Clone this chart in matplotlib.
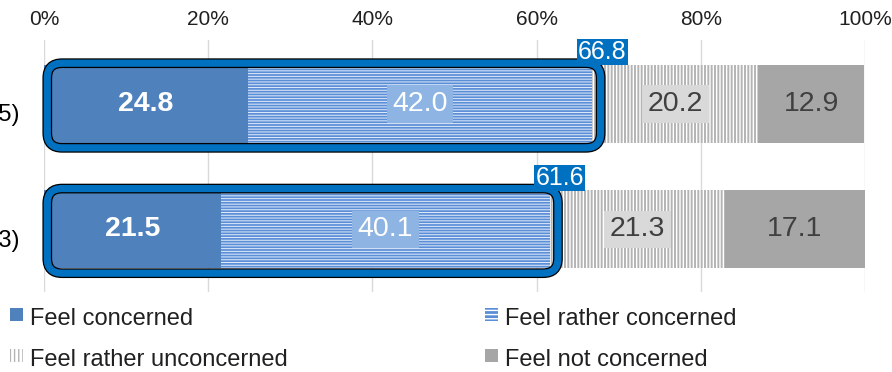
import matplotlib
matplotlib.use("Agg")
import matplotlib.pyplot as plt
from matplotlib.patches import FancyBboxPatch, Rectangle

plt.rcParams["font.family"] = ["Liberation Sans", "DejaVu Sans"]

# Survey results (%)
groups = ["(2015)", "(2013)"]
concerned = [24.8, 21.5]
rather_concerned = [42.0, 40.1]
rather_unconcerned = [20.2, 21.3]
not_concerned = [12.9, 17.1]
series_names = ["Feel concerned", "Feel rather concerned",
                "Feel rather unconcerned", "Feel not concerned"]
x_ticks = [0, 20, 40, 60, 80, 100]

W, H = 892, 372
fig = plt.figure(figsize=(W / 100, H / 100), dpi=100)
ax_rect = [44 / W, 80 / H, 821 / W, 252 / H]
ax = fig.add_axes(ax_rect)
ylim = (1.5, -0.51)
ax.set_xlim(0, 100)
ax.set_ylim(*ylim)

C_CONC = "#4F81BD"
C_RCONC = "#5A8ED7"
C_RUNC = "#B4B4B4"
C_NOT = "#A6A6A6"
C_HILITE = "#0070C0"
C_DARK = "#404040"

pos = list(range(len(groups)))
bh = 0.62

# stacked segments
lefts = [0.0] * len(groups)
ax.barh(pos, concerned, left=lefts, height=bh, color=C_CONC, zorder=2)
lefts2 = [a for a in concerned]
ax.barh(pos, rather_concerned, left=lefts2, height=bh, color=C_RCONC, zorder=2)
plt.rcParams["hatch.linewidth"] = 0.75
ax.barh(pos, rather_concerned, left=lefts2, height=bh, facecolor="none",
        edgecolor="#DCE7F7", hatch="------", linewidth=0, zorder=2)
lefts3 = [a + b for a, b in zip(concerned, rather_concerned)]
ax.barh(pos, rather_unconcerned, left=lefts3, height=bh, color="white", zorder=2)
plt.rcParams["hatch.linewidth"] = 1.4
ax.barh(pos, rather_unconcerned, left=lefts3, height=bh, facecolor="none",
        edgecolor=C_RUNC, hatch="|||||", linewidth=0, zorder=2)
lefts4 = [a + b for a, b in zip(lefts3, rather_unconcerned)]
ax.barh(pos, not_concerned, left=lefts4, height=bh, color=C_NOT, zorder=2)

# segment value labels
fs_val = 20.5
for i in pos:
    ax.text(concerned[i] / 2, i, f"{concerned[i]:.1f}", ha="center", va="center",
            color="white", fontsize=fs_val, fontweight="bold", zorder=5)
    ax.text(lefts2[i] + rather_concerned[i] / 2, i, f"{rather_concerned[i]:.1f}",
            ha="center", va="center", color="white", fontsize=fs_val, zorder=5,
            bbox=dict(boxstyle="square,pad=0.2", fc="#8DB4E2", ec="none"))
    ax.text(lefts3[i] + rather_unconcerned[i] / 2, i, f"{rather_unconcerned[i]:.1f}",
            ha="center", va="center", color=C_DARK, fontsize=fs_val, zorder=5,
            bbox=dict(boxstyle="square,pad=0.2", fc="#D9D9D9", ec="none"))
    ax.text(lefts4[i] + not_concerned[i] / 2, i, f"{not_concerned[i]:.1f}",
            ha="center", va="center", color=C_DARK, fontsize=fs_val, zorder=5)

# rounded highlight around the "concerned" total
px_per_x = ax_rect[2] * W / 100.0
px_per_y = ax_rect[3] * H / abs(ylim[0] - ylim[1])
aspect = px_per_x / px_per_y
for i in pos:
    total = concerned[i] + rather_concerned[i]
    x0, x1 = 0.4, total + 1.0
    y0, y1 = i - bh / 2 - 0.015, i + bh / 2 + 0.04
    for ec, lw in (("black", 7.0), (C_HILITE, 5.2)):
        box = FancyBboxPatch((x0, y0), x1 - x0, y1 - y0,
                             boxstyle="round,pad=0,rounding_size=1.8",
                             mutation_aspect=aspect, fc="none", ec=ec, lw=lw,
                             zorder=4, clip_on=False)
        ax.add_patch(box)
    ax.text(total + 1.2, i - bh / 2 - 0.005, f"{total:.1f}", ha="center", va="bottom",
            color="white", fontsize=18, zorder=6,
            bbox=dict(boxstyle="square,pad=0.04", fc=C_HILITE, ec="none"))

# category labels
for i, g in zip(pos, groups):
    ax.text(-2.9, i + 0.09, g, ha="right", va="center", fontsize=17, color="black",
            clip_on=False)

# axes styling
ax.set_yticks([])
ax.set_xticks(x_ticks)
ax.set_xticklabels([f"{t}%" for t in x_ticks])
ax.xaxis.tick_top()
ax.tick_params(axis="x", length=0, pad=8, labelsize=15, labelcolor="#202020")
ax.grid(axis="x", color="#D9D9D9", lw=1)
ax.set_axisbelow(True)
for s in ax.spines.values():
    s.set_visible(False)

# legend
def fx(px):
    return px / W

def fy(py):
    return 1 - py / H

plt.rcParams["hatch.linewidth"] = 1.0
legend_items = [
    (series_names[0], 10, 308, dict(fc=C_CONC)),
    (series_names[1], 485, 308, dict(fc=C_RCONC, ec="white", hatch="----")),
    (series_names[2], 10, 349, dict(fc="white", ec=C_RUNC, hatch="||||")),
    (series_names[3], 485, 349, dict(fc=C_NOT)),
]
for name, mx, my, style in legend_items:
    r = Rectangle((fx(mx), fy(my + 13)), 13 / W, 13 / H, transform=fig.transFigure,
                  lw=0, **style)
    fig.add_artist(r)
    fig.text(fx(mx + 20), fy(my + 17), name, ha="left", va="baseline",
             fontsize=17, color="#202020")

fig.savefig("out.png", dpi=100)
